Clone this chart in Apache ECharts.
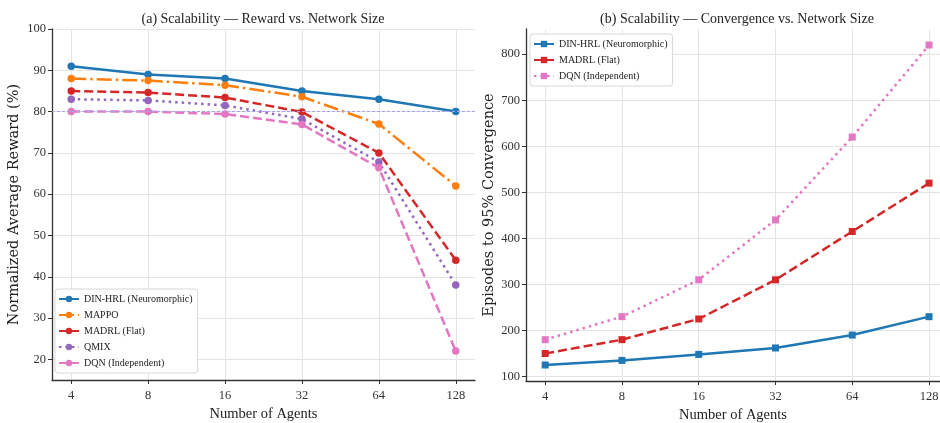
<!DOCTYPE html>
<html>
<head>
<meta charset="utf-8">
<script src="https://cdn.jsdelivr.net/npm/echarts@6/dist/echarts.min.js"></script>
<style>
  html, body { margin: 0; padding: 0; background: #fff; }
  #chart { width: 940px; height: 423px; }
</style>
</head>
<body>
<div id="chart"></div>
<script>
// agent counts (log2 spaced, plotted at index positions)
const agents = ['4', '8', '16', '32', '64', '128']

// (a) normalized average reward (%)
const rewardDin = [91, 89, 88, 85, 83, 80]
const rewardMappo = [88, 87.5, 86.4, 83.6, 77, 62]
const rewardMadrl = [85, 84.6, 83.4, 79.9, 70, 44]
const rewardQmix = [83, 82.7, 81.5, 78.2, 67.8, 38]
const rewardDqn = [80, 80, 79.4, 76.9, 66.4, 22]
const rewardTicks = [20, 30, 40, 50, 60, 70, 80, 90, 100]
const rewardRef = 80

// (b) episodes to 95% convergence
const convDin = [125, 135, 148, 162, 190, 230]
const convMadrl = [150, 180, 225, 310, 415, 520]
const convDqn = [180, 230, 310, 440, 620, 820]
const convTicks = [100, 200, 300, 400, 500, 600, 700, 800]

const xTicks = agents.map((a, i) => i)
const pts = arr => arr.map((v, i) => [i, v])

const serifN = "'Liberation Serif', 'DejaVu Serif', serif"
const serif = "'DejaVu Serif', serif"

const c = {
  blue: '#1f77b4',
  orange: '#ff7f0e',
  red: '#d62728',
  purple: '#9467bd',
  pink: '#e377c2'
}
const dash = [9, 4]
const dot = [2.5, 4]
const dashDot = [15, 4, 2.5, 4]

const chart = echarts.init(document.getElementById('chart'))

const xAxisBase = (gridIndex, max) => ({
  type: 'value',
  gridIndex,
  min: -0.25,
  max,
  name: 'Number of Agents',
  nameLocation: 'middle',
  nameGap: 26,
  nameTextStyle: { fontFamily: serifN, fontSize: 14.5, color: '#222' },
  axisLine: { onZero: false, lineStyle: { color: '#333', width: 1.3 } },
  axisTick: { show: true, length: 4, customValues: xTicks, lineStyle: { color: '#333' } },
  axisLabel: {
    customValues: xTicks,
    formatter: v => agents[Math.round(v)] || '',
    fontFamily: serifN, fontSize: 12.5, color: '#333', margin: 9
  },
  splitLine: { show: true, lineStyle: { color: '#e4e4e4', width: 1 } }
})

const yAxisBase = (gridIndex, min, max, ticks, name, gap) => ({
  type: 'value',
  gridIndex,
  min,
  max,
  name,
  nameLocation: 'middle',
  nameGap: gap,
  nameTextStyle: { fontFamily: serif, fontSize: 14.5, color: '#222' },
  axisLine: { show: true, onZero: false, lineStyle: { color: '#333', width: 1.3 } },
  axisTick: { show: true, length: 4, customValues: ticks, lineStyle: { color: '#333' } },
  axisLabel: { customValues: ticks, fontFamily: serifN, fontSize: 12.5, color: '#333', margin: 6 },
  splitLine: { show: true, lineStyle: { color: '#e4e4e4', width: 1 } }
})

const lineSeries = (name, data, color, type, symbol, xi, extra) => Object.assign({
  name,
  type: 'line',
  xAxisIndex: xi,
  yAxisIndex: xi,
  data: pts(data),
  symbol,
  symbolSize: symbol === 'circle' ? 7.5 : 7,
  showAllSymbol: true,
  itemStyle: { color },
  lineStyle: { color, width: 2.5, type },
  z: 3
}, extra || {})

const legendBase = {
  orient: 'vertical',
  itemWidth: 20, itemHeight: 8, itemGap: 6,
  padding: [5, 5, 5, 3],
  backgroundColor: '#fff',
  borderColor: '#d8d8d8', borderWidth: 1, borderRadius: 3,
  textStyle: { fontFamily: serifN, fontSize: 10, color: '#222' }
}

const options = {
  backgroundColor: '#fff',
  animation: false,
  title: [
    {
      text: '(a) Scalability — Reward vs. Network Size',
      left: 258, top: 7, textAlign: 'center',
      textStyle: { fontFamily: serifN, fontSize: 14, fontWeight: 'normal', color: '#222' }
    },
    {
      text: '(b) Scalability — Convergence vs. Network Size',
      left: 732, top: 7, textAlign: 'center',
      textStyle: { fontFamily: serifN, fontSize: 14, fontWeight: 'normal', color: '#222' }
    }
  ],
  grid: [
    { left: 52, top: 29, width: 423, height: 351, outerBoundsMode: 'none' },
    { left: 526, top: 29, width: 414, height: 352, outerBoundsMode: 'none' }
  ],
  xAxis: [xAxisBase(0, 5.25), xAxisBase(1, 5.143)],
  yAxis: [
    yAxisBase(0, 15, 100, rewardTicks, 'Normalized Average Reward (%)', 30),
    yAxisBase(1, 90.25, 854.75, convTicks, 'Episodes to 95% Convergence', 29)
  ],
  legend: [
    Object.assign({}, legendBase, {
      data: ['DIN-HRL (Neuromorphic)', 'MAPPO', 'MADRL (Flat)', 'QMIX', 'DQN (Independent)'],
      left: 55, top: 289
    }),
    Object.assign({}, legendBase, {
      data: ['DIN-HRL (Neuromorphic) ', 'MADRL (Flat) ', 'DQN (Independent) '],
      left: 530, top: 34,
      formatter: n => n.trim()
    })
  ],
  series: [
    lineSeries('DIN-HRL (Neuromorphic)', rewardDin, c.blue, 'solid', 'circle', 0, {
      markLine: {
        silent: true,
        symbol: 'none',
        label: { show: false },
        lineStyle: { color: '#a3a3ee', width: 1, type: [3, 2] },
        data: [{ yAxis: rewardRef }]
      }
    }),
    lineSeries('MAPPO', rewardMappo, c.orange, dashDot, 'circle', 0),
    lineSeries('MADRL (Flat)', rewardMadrl, c.red, dash, 'circle', 0),
    lineSeries('QMIX', rewardQmix, c.purple, dot, 'circle', 0),
    lineSeries('DQN (Independent)', rewardDqn, c.pink, dash, 'circle', 0),
    lineSeries('DIN-HRL (Neuromorphic) ', convDin, c.blue, 'solid', 'rect', 1),
    lineSeries('MADRL (Flat) ', convMadrl, c.red, dash, 'rect', 1),
    lineSeries('DQN (Independent) ', convDqn, c.pink, dot, 'rect', 1)
  ]
}
chart.setOption(options)
</script>
</body>
</html>
